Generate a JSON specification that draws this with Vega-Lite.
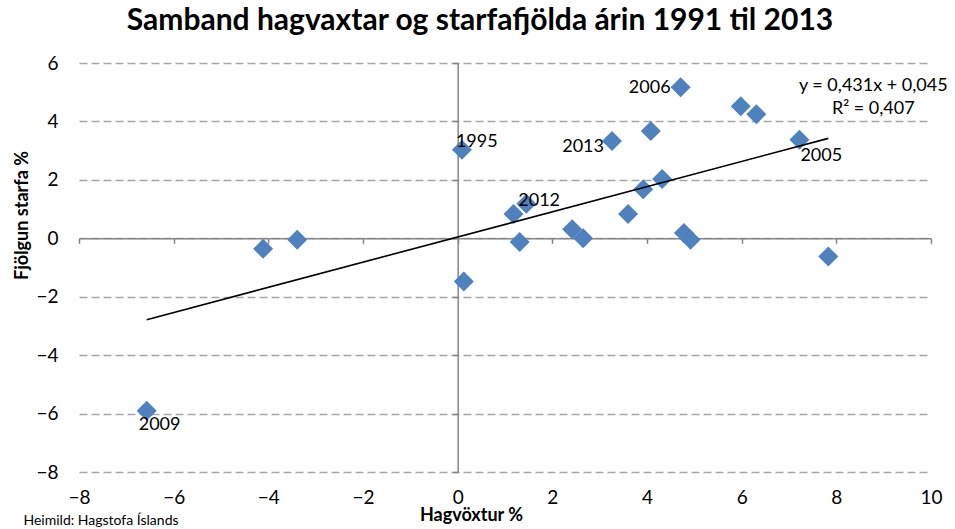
{
  "$schema": "https://vega.github.io/schema/vega-lite/v6.json",
  "autosize": "none",
  "width": 852,
  "height": 409,
  "padding": {"left": 79, "top": 63, "right": 24, "bottom": 57},
  "background": "white",
  "config": {"view": {"stroke": null}, "font": "Lato"},
  "title": {
    "text": "Samband hagvaxtar og starfafjölda árin 1991 til 2013",
    "font": "Lato", "fontSize": 30, "fontWeight": "bold", "color": "#000000",
    "anchor": "middle", "dx": -25, "baseline": "alphabetic", "offset": -6
  },
  "datasets": {
    "points": [
      {"x": -4.11, "y": -0.36},
      {"x": -3.39, "y": -0.05},
      {"x": 0.09, "y": 3.03, "year": "1995"},
      {"x": 0.13, "y": -1.48},
      {"x": 4.71, "y": 5.17, "year": "2006"},
      {"x": 5.98, "y": 4.52},
      {"x": 6.31, "y": 4.25},
      {"x": 4.08, "y": 3.67},
      {"x": 3.26, "y": 3.33, "year": "2013"},
      {"x": 7.22, "y": 3.37, "year": "2005"},
      {"x": 4.32, "y": 2.03},
      {"x": 3.92, "y": 1.68},
      {"x": 1.45, "y": 1.18, "year": "2012"},
      {"x": 1.18, "y": 0.83},
      {"x": 3.6, "y": 0.83},
      {"x": 1.31, "y": -0.13},
      {"x": 2.42, "y": 0.31},
      {"x": 2.65, "y": 0.0},
      {"x": 4.78, "y": 0.18},
      {"x": 4.92, "y": -0.05},
      {"x": 7.83, "y": -0.62},
      {"x": -6.57, "y": -5.9, "year": "2009"}
    ],
    "trend": [
      {"x": -6.57, "y": -2.787},
      {"x": 7.83, "y": 3.42, "eq": "y = 0,431x + 0,045", "r2": "R² = 0,407"}
    ]
  },
  "resolve": {"axis": {"x": "independent", "y": "independent"}},
  "layer": [
    {
      "data": {"name": "points"},
      "mark": {"type": "point", "shape": "diamond", "filled": true, "size": 400, "color": "#4f81bd", "opacity": 1},
      "encoding": {
        "x": {
          "field": "x", "type": "quantitative",
          "scale": {"domain": [-8, 10], "nice": false, "zero": false},
          "axis": {
            "orient": "bottom", "values": [-8, -6, -4, -2, 0, 2, 4, 6, 8, 10],
            "domain": false, "ticks": false, "tickSize": 0, "grid": false,
            "labelFont": "Lato", "labelFontSize": 19, "labelColor": "#000000", "labelPadding": 16,
            "labelFlush": false,
            "title": "Hagvöxtur %", "titleFont": "Lato", "titleFontSize": 18, "titleFontWeight": "bold", "titleColor": "#000000",
            "titleX": 392, "titleY": 48, "titleAlign": "center", "titleBaseline": "alphabetic", "titleAnchor": null
          }
        },
        "y": {
          "field": "y", "type": "quantitative",
          "scale": {"domain": [-8, 6], "nice": false, "zero": false},
          "axis": {
            "orient": "left", "values": [-8, -6, -4, -2, 0, 2, 4, 6],
            "domain": false, "ticks": false, "tickSize": 0,
            "grid": true, "gridColor": "#a6a6a6", "gridWidth": 1.5, "gridDash": [8, 4],
            "labelFont": "Lato", "labelFontSize": 19, "labelColor": "#000000", "labelPadding": 21,
            "labelFlush": false,
            "title": "Fjölgun starfa %", "titleFont": "Lato", "titleFontSize": 18, "titleFontWeight": "bold", "titleColor": "#000000",
            "titleAngle": -90, "titleX": -52, "titleY": 152, "titleAlign": "center", "titleBaseline": "alphabetic", "titleAnchor": null
          }
        }
      }
    },
    {
      "data": {"name": "trend"},
      "mark": {"type": "line", "color": "#000000", "strokeWidth": 1.6},
      "encoding": {
        "x": {
          "field": "x", "type": "quantitative",
          "axis": {
            "orient": "bottom", "offset": -233.71, "values": [-8, -6, -4, -2, 0, 2, 4, 6, 8, 10],
            "labels": false, "grid": false,
            "domain": true, "domainColor": "#868686", "domainWidth": 1.5,
            "ticks": true, "tickColor": "#868686", "tickWidth": 1.5, "tickSize": 5,
            "title": "Heimild: Hagstofa Íslands", "titleFont": "Lato", "titleFontSize": 14, "titleFontWeight": "normal", "titleColor": "#000000",
            "titleX": -56, "titleY": 286.7, "titleAlign": "left", "titleBaseline": "alphabetic", "titleAnchor": null
          }
        },
        "y": {
          "field": "y", "type": "quantitative",
          "axis": {
            "orient": "left", "offset": -378.67, "values": [-8, -6, -4, -2, 0, 2, 4, 6],
            "labels": false, "grid": false,
            "domain": true, "domainColor": "#868686", "domainWidth": 1.5,
            "ticks": true, "tickColor": "#868686", "tickWidth": 1.5, "tickSize": 5,
            "title": null
          }
        }
      }
    },
    {
      "data": {"name": "trend"},
      "transform": [{"filter": "datum.eq != null"}],
      "mark": {"type": "text", "font": "Lato", "fontSize": 18, "color": "#000000", "align": "center", "baseline": "alphabetic", "dx": 45, "dy": -47, "lineHeight": 23},
      "encoding": {
        "x": {"field": "x", "type": "quantitative", "axis": null},
        "y": {"field": "y", "type": "quantitative", "axis": null},
        "text": {"value": ["y = 0,431x + 0,045", "R² = 0,407"]}
      }
    },
    {
      "data": {"name": "points"},
      "transform": [{"filter": "datum.year == '1995'"}],
      "mark": {"type": "text", "font": "Lato", "fontSize": 18, "color": "#000000", "align": "left", "baseline": "middle", "dx": -6, "dy": -8},
      "encoding": {"x": {"field": "x", "type": "quantitative", "axis": null}, "y": {"field": "y", "type": "quantitative", "axis": null}, "text": {"field": "year"}}
    },
    {
      "data": {"name": "points"},
      "transform": [{"filter": "datum.year == '2006'"}],
      "mark": {"type": "text", "font": "Lato", "fontSize": 18, "color": "#000000", "align": "right", "baseline": "middle", "dx": -10, "dy": 1},
      "encoding": {"x": {"field": "x", "type": "quantitative", "axis": null}, "y": {"field": "y", "type": "quantitative", "axis": null}, "text": {"field": "year"}}
    },
    {
      "data": {"name": "points"},
      "transform": [{"filter": "datum.year == '2013'"}],
      "mark": {"type": "text", "font": "Lato", "fontSize": 18, "color": "#000000", "align": "right", "baseline": "middle", "dx": -8, "dy": 6},
      "encoding": {"x": {"field": "x", "type": "quantitative", "axis": null}, "y": {"field": "y", "type": "quantitative", "axis": null}, "text": {"field": "year"}}
    },
    {
      "data": {"name": "points"},
      "transform": [{"filter": "datum.year == '2005'"}],
      "mark": {"type": "text", "font": "Lato", "fontSize": 18, "color": "#000000", "align": "left", "baseline": "middle", "dx": 1, "dy": 16},
      "encoding": {"x": {"field": "x", "type": "quantitative", "axis": null}, "y": {"field": "y", "type": "quantitative", "axis": null}, "text": {"field": "year"}}
    },
    {
      "data": {"name": "points"},
      "transform": [{"filter": "datum.year == '2012'"}],
      "mark": {"type": "text", "font": "Lato", "fontSize": 18, "color": "#000000", "align": "left", "baseline": "middle", "dx": -8, "dy": -3},
      "encoding": {"x": {"field": "x", "type": "quantitative", "axis": null}, "y": {"field": "y", "type": "quantitative", "axis": null}, "text": {"field": "year"}}
    },
    {
      "data": {"name": "points"},
      "transform": [{"filter": "datum.year == '2009'"}],
      "mark": {"type": "text", "font": "Lato", "fontSize": 18, "color": "#000000", "align": "left", "baseline": "middle", "dx": -8, "dy": 14},
      "encoding": {"x": {"field": "x", "type": "quantitative", "axis": null}, "y": {"field": "y", "type": "quantitative", "axis": null}, "text": {"field": "year"}}
    }
  ]
}
